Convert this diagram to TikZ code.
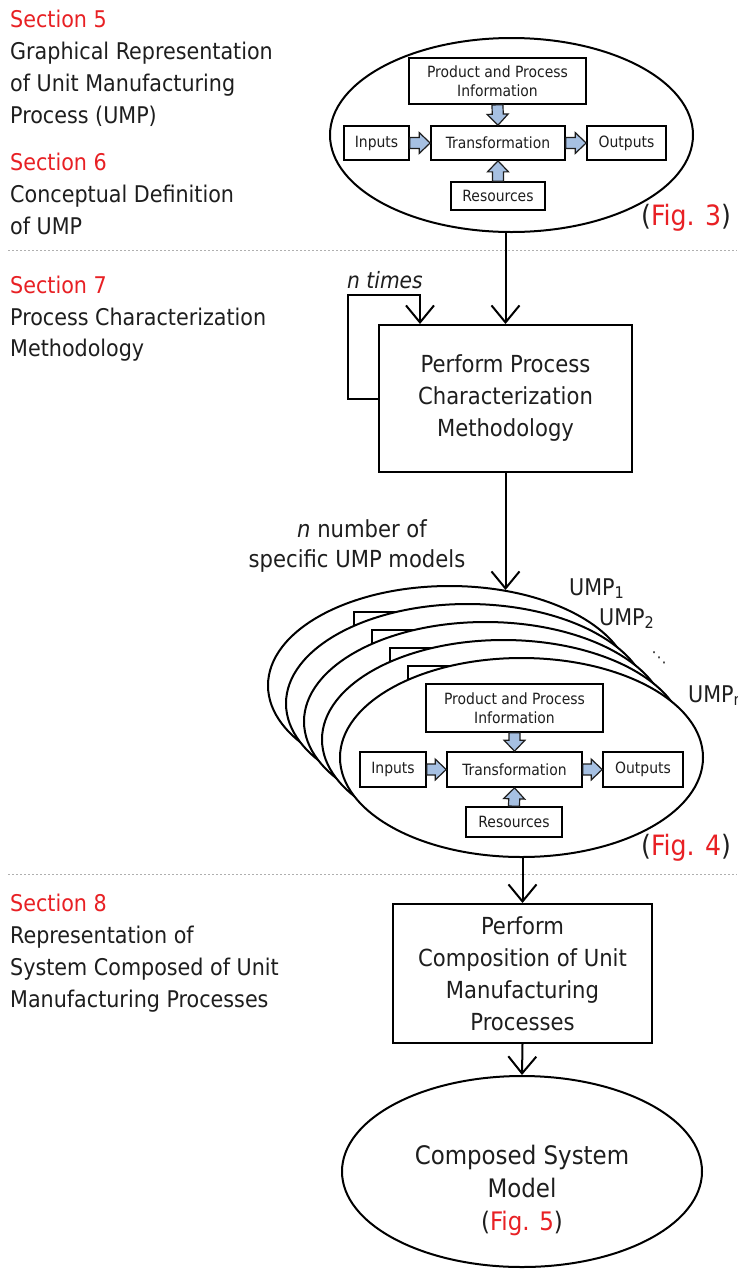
\documentclass[tikz,border=0pt]{standalone}
\usepackage{fontspec}
\setmainfont{DejaVu Sans Condensed}
\newfontfamily\symfont{DejaVu Sans}
\usetikzlibrary{shapes.geometric,arrows.meta,calc}
\definecolor{secred}{RGB}{232,32,36}
\definecolor{txt}{RGB}{30,30,30}
\definecolor{blkfill}{RGB}{166,192,226}
\definecolor{dotgray}{RGB}{175,175,175}
\tikzset{
  lbl/.style={font=\fontsize{23}{32}\selectfont, text=txt, inner sep=0, anchor=base west},
  sec/.style={lbl, text=secred},
  figlbl/.style={font=\fontsize{28}{32}\selectfont, text=txt, inner sep=0, anchor=base west},
  smallbox/.style={draw=black, line width=1.7pt, fill=white, inner sep=0, font=\fontsize{15.5}{19}\selectfont, text=txt, align=center},
  bigbox/.style={draw=black, line width=2pt, fill=white, inner sep=0, font=\fontsize{23.5}{32}\selectfont, text=txt, align=center},
  umpell/.style={ellipse, draw=black, line width=2pt, fill=white, inner sep=0, minimum width=363, minimum height=197},
  conn/.style={draw=black, line width=2pt, -{Straight Barb[length=17pt,width=28pt]}},
  blkarrow/.style={draw=txt, line width=1.2pt, fill=blkfill, line join=miter},
  sepline/.style={draw=dotgray, line width=1pt, dash pattern=on 2pt off 2pt}
}
\newcommand\blk[2]{%
  \coordinate (bkH) at ($(#2)!11pt!(#1)$);
  \path[blkarrow] ($(#1)!5.5pt!90:(#2)$) -- ($(bkH)!5.5pt!90:(#2)$) -- ($(bkH)!10.5pt!90:(#2)$) -- (#2) -- ($(bkH)!10.5pt!-90:(#2)$) -- ($(bkH)!5.5pt!-90:(#2)$) -- ($(#1)!5.5pt!-90:(#2)$) -- cycle;}
\begin{document}
\begin{tikzpicture}[x=1pt,y=-1pt]
\useasboundingbox (0,0) rectangle (737,1270);
\fill[white] (0,0) rectangle (737,1270);

% separator lines
\draw[sepline] (8,250) -- (737,250);
\draw[sepline] (8,874) -- (737,874);

% left texts
\node[sec] (s5) at (10,27) {Section 5};
\node[lbl] (s5a) at (10,59) {Graphical Representation};
\node[lbl] (s5b) at (10,91) {of Unit Manufacturing};
\node[lbl] (s5c) at (10,123) {Process (UMP)};
\node[sec] (s6) at (10,170) {Section 6};
\node[lbl] (s6a) at (10,202) {Conceptual Definition};
\node[lbl] (s6b) at (10,234) {of UMP};
\node[sec] (s7) at (10,293) {Section 7};
\node[lbl] (s7a) at (10,325) {Process Characterization};
\node[lbl] (s7b) at (10,356) {Methodology};
\node[sec] (s8) at (10,911) {Section 8};
\node[lbl] (s8a) at (10,943) {Representation of};
\node[lbl] (s8b) at (10,975) {System Composed of Unit};
\node[lbl] (s8c) at (10,1007) {Manufacturing Processes};

% Fig. 3
\node[umpell, minimum height=194] (e3) at (511.5,135) {};
\node[smallbox, minimum width=177, minimum height=46] (ppi3) at (497.5,81) {Product and Process\\Information};
\node[smallbox, minimum width=65, minimum height=34] (in3) at (376.5,143) {Inputs};
\node[smallbox, minimum width=134, minimum height=34] (tr3) at (498,143) {Transformation};
\node[smallbox, minimum width=79, minimum height=34] (out3) at (626.5,143) {Outputs};
\node[smallbox, minimum width=94, minimum height=28] (res3) at (498,196) {Resources};
\blk{in3.east}{tr3.west}
\blk{tr3.east}{out3.west}
\blk{ppi3.south}{tr3.north}
\blk{res3.north}{tr3.south}
\node[figlbl] (f3) at (641,225) {(\textcolor{secred}{Fig. 3})};

% Perform process characterization
\node[bigbox, minimum width=253, minimum height=147] (perf) at (505.5,398.5) {Perform Process\\Characterization\\Methodology};
\draw[conn] (perf.north |- e3.south) -- (perf.north);
\draw[conn] (perf.west) -- ++(-30,0) |- ($(perf.north west)+(42,-29)$) -- ($(perf.north west)+(42,0)$);
\node[lbl, font=\fontsize{22.5}{26}\selectfont\itshape] (nt) at (347,288) {n times};

% n number of
\node[lbl, font=\fontsize{23.5}{32}\selectfont, anchor=base] (nn1) at (362,537) {\textit{n} number of};
\node[lbl, font=\fontsize{23.5}{32}\selectfont, anchor=base] (nn2) at (357,567) {specific UMP models};

% stacked UMPs
\foreach \k in {4,3,2,1} {
  \node[umpell, minimum height=199] (bk\k) at (521.5-18*\k,757.5-18*\k) {};
  \node[smallbox, minimum width=177, minimum height=48] (bkppi\k) at (514.5-18*\k,708-18*\k) {};
}
\draw[conn] (perf.south) -- ($(perf.south |- bk4.north)+(0,5)$);
\node[umpell, minimum height=199] (e4) at (521.5,757.5) {};
\node[smallbox, minimum width=177, minimum height=48] (ppi4) at (514.5,708) {Product and Process\\Information};
\node[smallbox, minimum width=66, minimum height=35] (in4) at (393,769.5) {Inputs};
\node[smallbox, minimum width=135, minimum height=35] (tr4) at (514.5,769.5) {Transformation};
\node[smallbox, minimum width=80, minimum height=35] (out4) at (643,769.5) {Outputs};
\node[smallbox, minimum width=96, minimum height=30] (res4) at (514,822) {Resources};
\blk{in4.east}{tr4.west}
\blk{tr4.east}{out4.west}
\blk{ppi4.south}{tr4.north}
\blk{res4.north}{tr4.south}
\node[figlbl] (f4) at (641,855) {(\textcolor{secred}{Fig. 4})};

\node[lbl] (u1) at (569,595) {UMP\textsubscript{1}};
\node[lbl] (u2) at (599,625) {UMP\textsubscript{2}};
\node[font=\symfont\fontsize{15}{15}\selectfont, inner sep=0, text=txt] (udots) at (659,658) {⋱};
\node[lbl] (un) at (688,702) {UMP\textsubscript{n}};

% Composition
\node[bigbox, minimum width=259, minimum height=139] (comp) at (522.5,973.5) {Perform\\Composition of Unit\\Manufacturing\\Processes};
\draw[conn] (comp.north |- e4.south) -- (comp.north);
\node[ellipse, draw=black, line width=2pt, inner sep=0, minimum width=360, minimum height=191] (csm) at (522,1171.5) {};
\node[font=\fontsize{25.5}{33}\selectfont, text=txt, align=center, inner sep=0] (csmtxt) at ($(csm.center)+(0,19)$) {Composed System\\Model\\(\textcolor{secred}{Fig. 5})};
\draw[conn] (comp.south) -- (csm.north);
\end{tikzpicture}
\end{document}
